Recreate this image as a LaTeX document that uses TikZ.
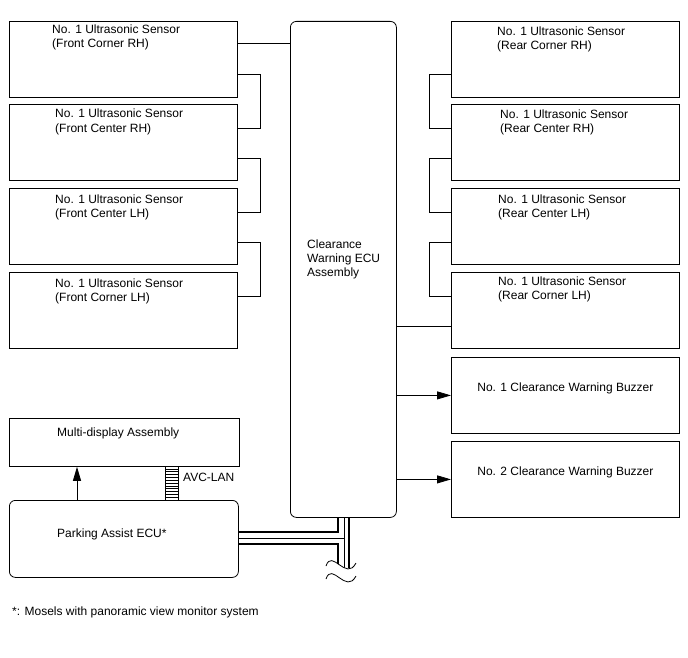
\documentclass[tikz,border=0pt]{standalone}
\usepackage{fontspec}
\setmainfont{Liberation Sans}
\usetikzlibrary{arrows.meta,calc}
\begin{document}
\begin{tikzpicture}[x=1pt,y=-1pt,
  box/.style={draw, line width=0.8pt, minimum width=228pt, minimum height=76pt, anchor=north west, inner sep=0pt},
  lbl/.style={anchor=base west, align=left, inner sep=0pt, font=\fontsize{12}{14}\selectfont},
  clbl/.style={inner sep=0pt, font=\fontsize{12}{14}\selectfont},
  wire/.style={line width=0.8pt},
  arr/.style={wire, -{Triangle[length=14pt,width=8pt]}},
  busthick/.style={line width=1.7pt},
  busthin/.style={line width=0.9pt}]
\useasboundingbox (0,0) rectangle (688,658);

% left sensors
\node[box] (lf1) at (9,21) {};
\node[box] (lf2) at (9,104) {};
\node[box] (lf3) at (9,188) {};
\node[box] (lf4) at (9,272) {};
\node[lbl] (tlf1) at (52,48) {No. 1 Ultrasonic Sensor\\(Front Corner RH)};
\node[lbl] (tlf2) at (55,132) {No. 1 Ultrasonic Sensor\\(Front Center RH)};
\node[lbl] (tlf3) at (55,217) {No. 1 Ultrasonic Sensor\\(Front Center LH)};
\node[lbl] (tlf4) at (55,301) {No. 1 Ultrasonic Sensor\\(Front Corner LH)};

% right sensors
\node[box] (rr1) at (451,21) {};
\node[box] (rr2) at (451,104) {};
\node[box] (rr3) at (451,188) {};
\node[box] (rr4) at (451,272) {};
\node[lbl] (trr1) at (497,50) {No. 1 Ultrasonic Sensor\\(Rear Corner RH)};
\node[lbl] (trr2) at (500,133) {No. 1 Ultrasonic Sensor\\(Rear Center RH)};
\node[lbl] (trr3) at (498,217) {No. 1 Ultrasonic Sensor\\(Rear Center LH)};
\node[lbl] (trr4) at (498,299) {No. 1 Ultrasonic Sensor\\(Rear Corner LH)};

% buzzers
\node[box] (bz1) at (451,357) {};
\node[box] (bz2) at (451,441) {};
\node[clbl] (tbz1) at ([yshift=7pt]bz1.center) {No. 1 Clearance Warning Buzzer};
\node[clbl] (tbz2) at ([yshift=7pt]bz2.center) {No. 2 Clearance Warning Buzzer};

% ECU
\node[draw, line width=0.8pt, rounded corners=6pt, minimum width=106pt, minimum height=496pt, anchor=north west, inner sep=0pt] (ecu) at (290,21) {};
\node[lbl] (tecu) at (307,276) {Clearance\\Warning ECU\\Assembly};

% multi display and parking assist
\node[draw, line width=0.8pt, minimum width=230pt, minimum height=48pt, anchor=north west, inner sep=0pt] (md) at (9,418) {};
\node[lbl] (tmd) at (57,436) {Multi-display Assembly};
\node[draw, line width=0.8pt, rounded corners=6pt, minimum width=229pt, minimum height=77pt, anchor=north west, inner sep=0pt] (pa) at (9,500) {};
\node[lbl] (tpa) at (57,537) {Parking Assist ECU*};

% left links
\draw[wire] ([yshift=-22pt]lf1.north east) -- ([yshift=-22pt]lf1.north east -| ecu.west);
\draw[wire] ([yshift=-53pt]lf1.north east) -- ++(23,0) |- ([yshift=-24pt]lf2.north east);
\draw[wire] ([yshift=-54pt]lf2.north east) -- ++(23,0) |- ([yshift=-24pt]lf3.north east);
\draw[wire] ([yshift=-54pt]lf3.north east) -- ++(23,0) |- ([yshift=-24pt]lf4.north east);

% right links
\draw[wire] ([yshift=-53pt]rr1.north west) -- ++(-22,0) |- ([yshift=-24pt]rr2.north west);
\draw[wire] ([yshift=-54pt]rr2.north west) -- ++(-22,0) |- ([yshift=-24pt]rr3.north west);
\draw[wire] ([yshift=-54pt]rr3.north west) -- ++(-22,0) |- ([yshift=-24pt]rr4.north west);
\draw[wire] ([yshift=-54pt]rr4.north west -| ecu.east) -- ([yshift=-54pt]rr4.north west);

% buzzer arrows
\draw[arr] (bz1.west -| ecu.east) -- (bz1.west);
\draw[arr] (bz2.west -| ecu.east) -- (bz2.west);

% parking -> multi display
\draw[arr] ([xshift=68pt]pa.north west) -- ([xshift=68pt]pa.north west |- md.south);

% AVC-LAN
\node[draw, line width=0.8pt, minimum width=13pt, minimum height=34pt, anchor=north west, inner sep=0pt] (avc) at (165,466) {};
\foreach \i in {1,...,11}
  \draw[line width=0.6pt] ($(avc.north west)+(0,\i*2.83)$) -- ($(avc.north east)+(0,\i*2.83)$);
\node[lbl] (tavc) at (183,481) {AVC-LAN};

% bus from parking assist to ECU
\coordinate (jA) at (338,517);
\coordinate (jB) at (344,517);
\coordinate (jC) at (349,517);
\coordinate (eA) at (338,568);
\coordinate (eB) at (344,568);
\coordinate (eC) at (349,568);
\draw[busthick] ([yshift=-32pt]pa.north east) -| (jA);
\draw[busthin] ([yshift=-38pt]pa.north east) -- ([yshift=-38pt]pa.north east -| jB);
\draw[busthick] ([yshift=-44pt]pa.north east) -| (eA);
\draw[busthin] (jB) -- (eB);
\draw[busthick] (jC) -- (eC);

% break marks
\fill[white] (326,566) .. controls (332,548) and (346,582) .. (356,563) -- (356,576) .. controls (346,595) and (332,561) .. (326,579) -- cycle;
\draw[wire] (326,566) .. controls (332,548) and (346,582) .. (356,563);
\draw[wire] (326,579) .. controls (332,561) and (346,595) .. (356,576);

% footnote
\node[lbl] (fn) at (12,615) {*: Mosels with panoramic view monitor system};
\end{tikzpicture}
\end{document}
